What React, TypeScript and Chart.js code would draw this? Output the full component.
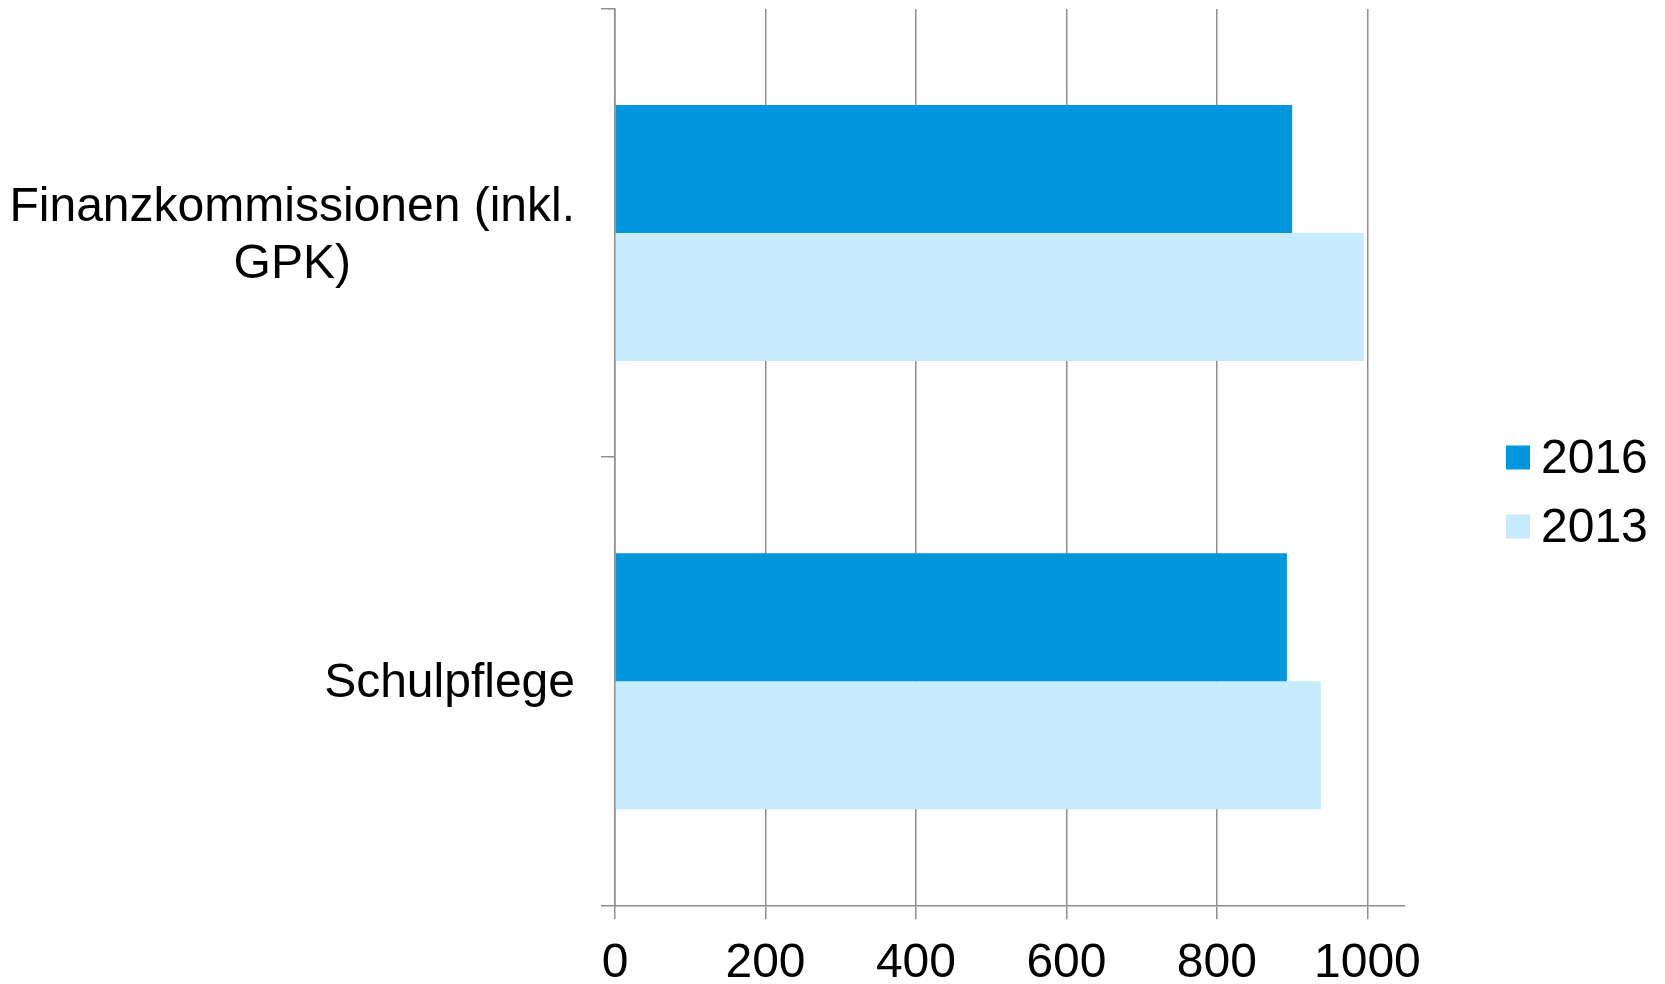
import React, { useEffect, useRef } from "react";
import { Chart, registerables } from "chart.js";

Chart.register(...registerables);

// ---- data ----
const categories: string[][] = [["Finanzkommissionen (inkl.", "GPK)"], ["Schulpflege"]];
const seriesLabels: string[] = ["2016", "2013"];
const values2016: number[] = [900, 893];
const values2013: number[] = [995, 938];
const xTickValues: number[] = [0, 200, 400, 600, 800, 1000];
const xMin = 0;
const xMax = 1050;

// ---- styles ----
const FONT = "'Liberation Sans', Arial, Helvetica, sans-serif";
const GRAY = "#8e8e8e";
const COLORS = ["#0096de", "#c6ebfc"];
const FONT_SIZE = 48;
const LINE_H = FONT_SIZE * 1.2;

const categoryLabelPlugin = {
  id: "categoryLabels",
  afterDraw(chart: any) {
    const ctx = chart.ctx as CanvasRenderingContext2D;
    const yScale = chart.scales.y;
    ctx.save();
    ctx.font = `${FONT_SIZE}px ${FONT}`;
    ctx.fillStyle = "#000";
    ctx.textBaseline = "middle";
    ctx.textAlign = "center";
    const right = chart.chartArea.left - 40;
    (chart.data.labels as string[][]).forEach((lines, i) => {
      const cy = yScale.getPixelForValue(i) + 3;
      const w = Math.max(...lines.map((l) => ctx.measureText(l).width));
      const cx = right - w / 2;
      lines.forEach((l, j) => {
        ctx.fillText(l, cx, cy + (j - (lines.length - 1) / 2) * LINE_H);
      });
    });
    ctx.restore();
  },
};

const legendPlugin = {
  id: "customLegend",
  afterDraw(chart: any) {
    const ctx = chart.ctx as CanvasRenderingContext2D;
    const boxX = chart.chartArea.right + 101;
    const box = 24;
    const spacing = 69;
    const n = chart.data.datasets.length;
    const startY = chart.height / 2 - ((n - 1) * spacing) / 2;
    ctx.save();
    ctx.font = `${FONT_SIZE}px ${FONT}`;
    ctx.textBaseline = "middle";
    ctx.textAlign = "left";
    chart.data.datasets.forEach((ds: any, i: number) => {
      const cy = startY + i * spacing;
      ctx.fillStyle = ds.backgroundColor;
      ctx.fillRect(boxX, cy - box / 2, box, box);
      ctx.fillStyle = "#000";
      ctx.fillText(ds.label, boxX + box + 11, cy + 2);
    });
    ctx.restore();
  },
};

export default function App() {
  const canvasRef = useRef<HTMLCanvasElement | null>(null);

  useEffect(() => {
    if (!canvasRef.current) return;
    const chart = new Chart(canvasRef.current, {
      type: "bar",
      data: {
        labels: categories as any,
        datasets: [
          {
            label: seriesLabels[0],
            data: values2016,
            backgroundColor: COLORS[0],
            categoryPercentage: 4 / 7,
            barPercentage: 1,
          },
          {
            label: seriesLabels[1],
            data: values2013,
            backgroundColor: COLORS[1],
            categoryPercentage: 4 / 7,
            barPercentage: 1,
          },
        ],
      },
      options: {
        indexAxis: "y",
        animation: false,
        responsive: false,
        devicePixelRatio: 1,
        layout: { padding: { top: 9, right: 260, bottom: 0, left: 0 } },
        plugins: {
          legend: { display: false },
          tooltip: { enabled: false },
        },
        scales: {
          x: {
            type: "linear",
            position: "bottom",
            min: xMin,
            max: xMax,
            afterBuildTicks: (scale: any) => {
              scale.ticks = xTickValues.map((v) => ({ value: v }));
            },
            afterFit: (scale: any) => {
              scale.height = 78.7;
            },
            ticks: {
              font: { size: FONT_SIZE, family: FONT },
              color: "#000",
              padding: 16,
              maxRotation: 0,
              autoSkip: false,
              callback: (v: any) => String(v),
            },
            grid: {
              color: GRAY,
              lineWidth: 1.5,
              tickLength: 14,
              drawOnChartArea: true,
              drawTicks: true,
            },
            border: { color: GRAY, width: 1.5 },
          },
          y: {
            type: "category",
            position: "left",
            afterFit: (scale: any) => {
              scale.width = 615;
            },
            ticks: { display: false },
            grid: {
              color: GRAY,
              lineWidth: 1.5,
              tickLength: 14,
              drawOnChartArea: false,
              drawTicks: true,
              offset: true,
            },
            border: { color: GRAY, width: 1.5 },
          },
        },
      },
      plugins: [categoryLabelPlugin, legendPlugin],
    });
    return () => chart.destroy();
  }, []);

  return (
    <div style={{ position: "absolute", left: 0, top: 0, width: 1665, height: 984, background: "#fff" }}>
      <canvas ref={canvasRef} width={1665} height={984} style={{ width: 1665, height: 984, display: "block" }} />
    </div>
  );
}
